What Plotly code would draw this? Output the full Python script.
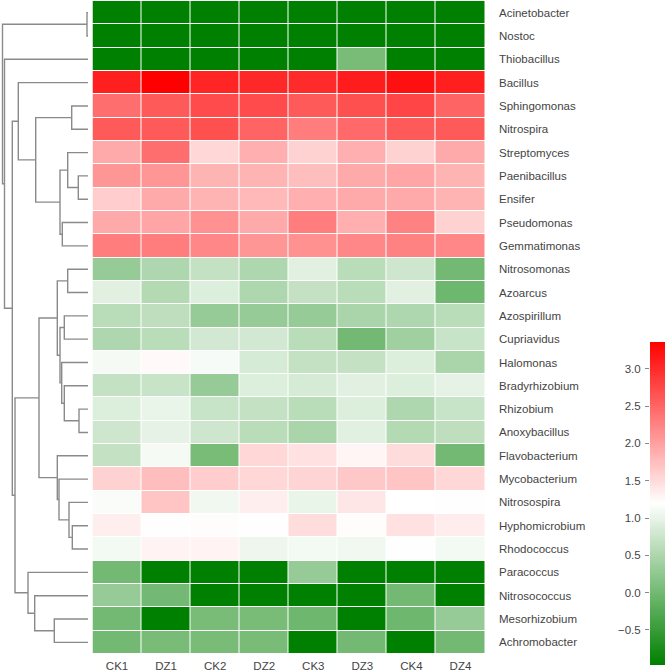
import numpy as np
import plotly.graph_objects as go

samples = ["CK1", "DZ1", "CK2", "DZ2", "CK3", "DZ3", "CK4", "DZ4"]
genera = ["Acinetobacter", "Nostoc", "Thiobacillus", "Bacillus", "Sphingomonas",
          "Nitrospira", "Streptomyces", "Paenibacillus", "Ensifer", "Pseudomonas",
          "Gemmatimonas", "Nitrosomonas", "Azoarcus", "Azospirillum", "Cupriavidus",
          "Halomonas", "Bradyrhizobium", "Rhizobium", "Anoxybacillus", "Flavobacterium",
          "Mycobacterium", "Nitrosospira", "Hyphomicrobium", "Rhodococcus", "Paracoccus",
          "Nitrosococcus", "Mesorhizobium", "Achromobacter"]

values = [
    [-0.97, -0.97, -0.97, -0.97, -0.97, -0.97, -0.97, -0.97],
    [-0.97, -0.97, -0.97, -0.97, -0.97, -0.97, -0.97, -0.97],
    [-0.97, -0.97, -0.97, -0.97, -0.97, 0.05, -0.97, -0.97],
    [3.10, 3.36, 3.05, 3.02, 3.00, 3.12, 3.22, 3.10],
    [2.43, 2.60, 2.72, 2.72, 2.60, 2.68, 2.77, 2.51],
    [2.60, 2.60, 2.68, 2.51, 2.30, 2.47, 2.60, 2.60],
    [1.92, 2.43, 1.535, 1.875, 1.575, 1.875, 1.575, 1.92],
    [2.09, 2.09, 1.83, 1.83, 1.75, 1.92, 1.96, 1.83],
    [1.62, 1.92, 1.83, 1.79, 1.875, 1.92, 1.92, 1.83],
    [1.92, 1.96, 2.13, 1.92, 2.30, 1.875, 2.26, 1.575],
    [2.30, 2.30, 2.21, 2.09, 2.13, 2.21, 2.26, 2.21],
    [0.30, 0.515, 0.69, 0.515, 0.94, 0.60, 0.77, 0.01],
    [0.94, 0.56, 0.90, 0.515, 0.69, 0.60, 0.94, -0.04],
    [0.60, 0.64, 0.30, 0.30, 0.30, 0.47, 0.515, 0.60],
    [0.515, 0.60, 0.81, 0.81, 0.60, 0.01, 0.39, 0.73],
    [1.11, 1.25, 1.13, 0.85, 0.69, 0.69, 0.90, 0.47],
    [0.69, 0.73, 0.30, 0.90, 0.85, 0.94, 0.90, 0.98],
    [0.90, 1.02, 0.73, 0.69, 0.60, 0.90, 0.515, 0.73],
    [0.77, 0.98, 0.77, 0.60, 0.47, 0.94, 0.56, 0.64],
    [0.69, 1.11, 0.05, 1.535, 1.45, 1.28, 1.49, 0.01],
    [1.575, 1.75, 1.62, 1.535, 1.56, 1.66, 1.70, 1.535],
    [1.15, 1.70, 1.07, 1.34, 1.02, 1.41, 1.195, 1.20],
    [1.34, 1.20, 1.22, 1.20, 1.48, 1.22, 1.45, 1.36],
    [1.09, 1.30, 1.30, 1.05, 1.09, 1.07, 1.20, 1.09],
    [0.01, -0.97, -0.97, -0.97, 0.30, -0.97, -0.97, -0.97],
    [0.30, 0.01, -0.97, -0.97, -0.97, -0.97, 0.01, -0.97],
    [0.01, -0.97, 0.05, 0.05, -0.04, -0.97, -0.04, 0.30],
    [0.01, 0.05, 0.05, 0.05, -0.97, 0.01, -0.97, 0.01],
]

# row dendrogram: (node, child1, child2, merge height)
linkage = [
    ("n01", "Acinetobacter", "Nostoc", 1.0),
    ("J", "Sphingomonas", "Nitrospira", 16.3),
    ("M", "Paenibacillus", "Ensifer", 9.7),
    ("L", "Streptomyces", "M", 20.3),
    ("N", "Pseudomonas", "Gemmatimonas", 25.7),
    ("K", "L", "N", 28.0),
    ("I", "J", "K", 52.3),
    ("D", "Bacillus", "I", 69.7),
    ("Q", "Nitrosomonas", "Azoarcus", 20.3),
    ("R", "Azospirillum", "Cupriavidus", 23.7),
    ("T", "Rhizobium", "Anoxybacillus", 9.0),
    ("U", "Bradyrhizobium", "T", 23.7),
    ("V", "Halomonas", "U", 26.3),
    ("W", "R", "V", 28.0),
    ("O", "Q", "W", 30.7),
    ("Y", "Hyphomicrobium", "Rhodococcus", 15.7),
    ("X", "Nitrosospira", "Y", 19.0),
    ("AA", "Mycobacterium", "X", 29.0),
    ("P", "Flavobacterium", "AA", 30.7),
    ("E", "O", "P", 49.0),
    ("H", "Mesorhizobium", "Achromobacter", 33.7),
    ("G", "Nitrosococcus", "H", 53.3),
    ("F", "Paracoccus", "G", 60.0),
    ("C", "E", "F", 73.0),
    ("B", "D", "C", 75.7),
    ("A", "Thiobacillus", "B", 83.5),
    ("root", "n01", "A", 85.5),
]

zmin, zmax = -0.97, 3.36
colorscale = [[0.0, "#008000"], [0.5, "#ffffff"], [1.0, "#ff0000"]]
cbar_ticks = [-0.5, 0.0, 0.5, 1.0, 1.5, 2.0, 2.5, 3.0]

W, H = 666, 671
FONT = "Arial, Liberation Sans, sans-serif"
TXT = "#444444"

fig = go.Figure()

rows = list(range(len(genera)))
fig.add_trace(go.Heatmap(
    z=values, x=samples, y=rows, zmin=zmin, zmax=zmax, colorscale=colorscale,
    showscale=False, xgap=1, ygap=1, hoverinfo="skip",
    xaxis="x", yaxis="y"))

# dendrogram
pos = {g: (float(i), 0.0) for i, g in enumerate(genera)}
dx, dy = [], []
for node, a, b, h in linkage:
    ya, ha = pos[a]
    yb, hb = pos[b]
    dx += [ha, h, h, hb, None]
    dy += [ya, ya, yb, yb, None]
    pos[node] = ((ya + yb) / 2.0, h)
fig.add_trace(go.Scatter(x=dx, y=dy, mode="lines", line=dict(color="#8a8a8a", width=1.4),
                         hoverinfo="skip", showlegend=False, xaxis="x2", yaxis="y2"))

# colour bar built as a thin heatmap
cb_vals = np.linspace(zmin, zmax, 300)
fig.add_trace(go.Heatmap(z=[[v] for v in cb_vals], x=[0], y=cb_vals, zmin=zmin, zmax=zmax,
                         colorscale=colorscale, showscale=False, hoverinfo="skip",
                         xaxis="x3", yaxis="y3"))

hx0, hx1 = 92.5 / W, 485 / W
hy0, hy1 = (H - 654) / H, (H - 1) / H
fig.update_layout(
    template="none",
    width=W, height=H, margin=dict(l=0, r=0, t=0, b=0, autoexpand=False),
    paper_bgcolor="white", plot_bgcolor="white", showlegend=False,
    font=dict(family=FONT, size=11.5, color=TXT),
    xaxis=dict(domain=[hx0, hx1], anchor="y", showgrid=False, zeroline=False,
               automargin=False, showline=False,
               ticks="", tickfont=dict(size=11.5, color=TXT), ticklabelstandoff=3),
    yaxis=dict(domain=[hy0, hy1], anchor="x", range=[len(genera) - 0.5, -0.5],
               side="right", tickvals=rows, ticktext=genera, showgrid=False,
               automargin=False, showline=False,
               zeroline=False, ticks="", tickfont=dict(size=11.5, color=TXT),
               ticklabelstandoff=13),
    xaxis2=dict(domain=[0, hx0], anchor="y2", range=[88, -4.5], visible=False,
                automargin=False),
    yaxis2=dict(domain=[hy0, hy1], anchor="x2", range=[len(genera) - 0.5, -0.5],
                visible=False, automargin=False),
    xaxis3=dict(domain=[650 / W, 665 / W], anchor="y3", visible=False, range=[-0.5, 0.5],
                automargin=False),
    yaxis3=dict(domain=[(H - 665) / H, (H - 342) / H], anchor="x3", range=[zmin, zmax],
                side="left", tickvals=cbar_ticks, tickformat=".1f", ticks="outside",
                ticklen=4, tickcolor="#888888", showgrid=False, zeroline=False,
                showline=False, automargin=False, ticklabelstandoff=2,
                tickfont=dict(size=11.5, color=TXT)),
)

fig.write_html("out.html", config={"displayModeBar": False},
               post_script="document.body.style.margin='0';document.body.style.padding='0';")
